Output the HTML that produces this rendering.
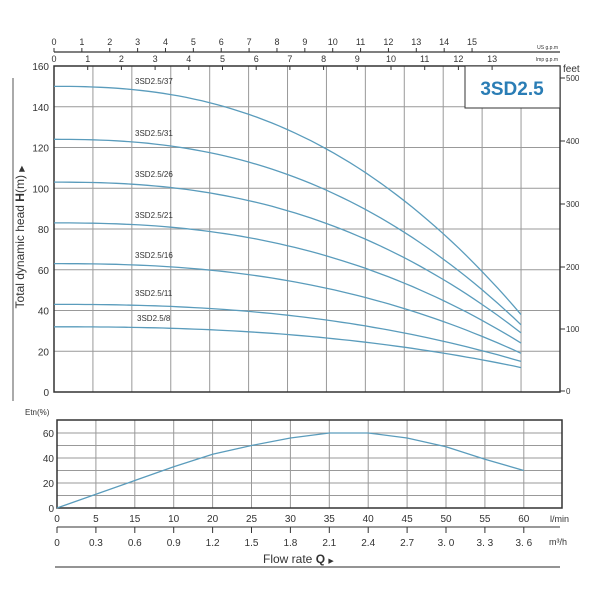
<!DOCTYPE html>
<html><head><meta charset="utf-8"><style>
html,body{margin:0;padding:0;background:#fff;width:600px;height:600px;overflow:hidden}
svg text{font-family:"Liberation Sans",sans-serif;fill:#333}
</style></head><body>
<svg id="s" width="600" height="600" viewBox="0 0 600 600"></svg>
<script>
const s=document.getElementById('s');let h='';
const L=54,R=560,T=66,B=392,dx=38.92;
const Y=v=>B-v*((B-T)/160);
const X=q=>L+q/5*dx;
for(let i=1;i<13;i++){let x=L+i*dx;h+=`<line x1="${x}" y1="${T}" x2="${x}" y2="${B}" stroke="#999" stroke-width="1"/>`;}
for(let v=20;v<160;v+=20)h+=`<line x1="${L}" y1="${Y(v)}" x2="${R}" y2="${Y(v)}" stroke="#999" stroke-width="1"/>`;
for(let v=0;v<=160;v+=20)h+=`<text x="${L-5}" y="${Y(v)+4}" font-size="10" text-anchor="end">${v}</text>`;
h+=`<rect x="${L}" y="${T}" width="${R-L}" height="${B-T}" fill="none" stroke="#333" stroke-width="1.5"/>`;
h+=`<rect x="465" y="${T}" width="${R-465}" height="42" fill="#fff" stroke="#333" stroke-width="1"/>`;
h+=`<text x="512" y="95" font-size="19" font-weight="bold" text-anchor="middle" style="fill:#2a7db5">3SD2.5</text>`;
const ft=[[0,391],[100,329],[200,267],[300,204],[400,141],[500,78]];
ft.forEach(([v,y])=>{h+=`<line x1="${R}" y1="${y}" x2="${R+5}" y2="${y}" stroke="#333"/><text x="${R+6}" y="${y+3}" font-size="8">${v}</text>`;});
h+=`<text x="563" y="72" font-size="10">feet</text>`;
h+=`<line x1="${L}" y1="52" x2="${R}" y2="52" stroke="#333" stroke-width="1.2"/>`;
for(let i=0;i<=15;i++){let x=L+i*27.87;h+=`<line x1="${x}" y1="48" x2="${x}" y2="52" stroke="#333"/><text x="${x}" y="45" font-size="9" text-anchor="middle">${i}</text>`;}
for(let i=0;i<=13;i++){let x=L+i*33.7;h+=`<line x1="${x}" y1="${T}" x2="${x}" y2="${T+4}" stroke="#333"/><text x="${x}" y="62" font-size="9" text-anchor="middle">${i}</text>`;}
h+=`<text x="558" y="49" font-size="5" text-anchor="end">US g.p.m</text><text x="558" y="61" font-size="5" text-anchor="end">Imp g.p.m</text>`;
const cs=[[150,38,'37',84],[124,33,'31',136],[103,29,'26',177],[83,24,'21',218],[63,19,'16',258],[43,15,'11',296],[32,12,'8',321]];
cs.forEach(([h0,he,n,ly])=>{let p=[];for(let k=0;k<=60;k++){let t=k/60;let f=Math.pow(t,2.4);p.push(X(t*60).toFixed(1)+','+Y(h0-(h0-he)*f).toFixed(1));}
h+=`<polyline points="${p.join(' ')}" fill="none" stroke="#5a9cbc" stroke-width="1.3"/>`;
h+=`<text x="${n=='8'?137:135}" y="${ly}" font-size="8">3SD2.5/${n}</text>`;});
h+=`<line x1="13" y1="78" x2="13" y2="401" stroke="#555"/>`;
h+=`<text transform="translate(24,237) rotate(-90)" font-size="12" text-anchor="middle">Total dynamic head <tspan font-weight="bold">H</tspan>(m) <tspan font-size="8">▶</tspan></text>`;
const eL=57,eR=562,eT=420,eB=508,edx=38.9,EY=v=>eB-v*1.25;
for(let i=1;i<13;i++){let x=eL+i*edx;h+=`<line x1="${x}" y1="${eT}" x2="${x}" y2="${eB}" stroke="#999"/>`;}
for(let v=10;v<=60;v+=10)h+=`<line x1="${eL}" y1="${EY(v)}" x2="${eR}" y2="${EY(v)}" stroke="#999"/>`;
h+=`<rect x="${eL}" y="${eT}" width="${eR-eL}" height="${eB-eT}" fill="none" stroke="#333" stroke-width="1.5"/>`;
for(let v=0;v<=60;v+=20)h+=`<text x="${eL-3}" y="${EY(v)+4}" font-size="10" text-anchor="end">${v}</text>`;
h+=`<text x="25" y="415" font-size="8">Etn(%)</text>`;
const ev=[0,11,22,33,43,50,56,60,60,56,49,39,30];
h+=`<polyline points="${ev.map((v,i)=>(eL+i*edx).toFixed(1)+','+EY(v).toFixed(1)).join(' ')}" fill="none" stroke="#5a9cbc" stroke-width="1.3"/>`;
const lm=[0,5,15,10,20,25,30,35,40,45,50,55,60];
lm.forEach((v,i)=>h+=`<text x="${eL+i*edx}" y="522" font-size="10" text-anchor="middle">${v}</text>`);
h+=`<text x="550" y="522" font-size="9">l/min</text>`;
const m3=['0','0.3','0.6','0.9','1.2','1.5','1.8','2.1','2.4','2.7','3. 0','3. 3','3. 6'];
h+=`<line x1="${eL}" y1="527" x2="${eR-2}" y2="527" stroke="#333"/>`;
m3.forEach((v,i)=>{let x=eL+i*edx;h+=`<line x1="${x}" y1="527" x2="${x}" y2="533" stroke="#333"/><text x="${x}" y="546" font-size="10" text-anchor="middle">${v}</text>`;});
h+=`<text x="549" y="545" font-size="9">m³/h</text>`;
h+=`<text x="263" y="563" font-size="12">Flow rate <tspan font-weight="bold">Q</tspan> <tspan font-size="7">▶</tspan></text>`;
h+=`<line x1="55" y1="567" x2="560" y2="567" stroke="#555" stroke-width="1.2"/>`;
s.innerHTML=h;
</script>
</body></html>
